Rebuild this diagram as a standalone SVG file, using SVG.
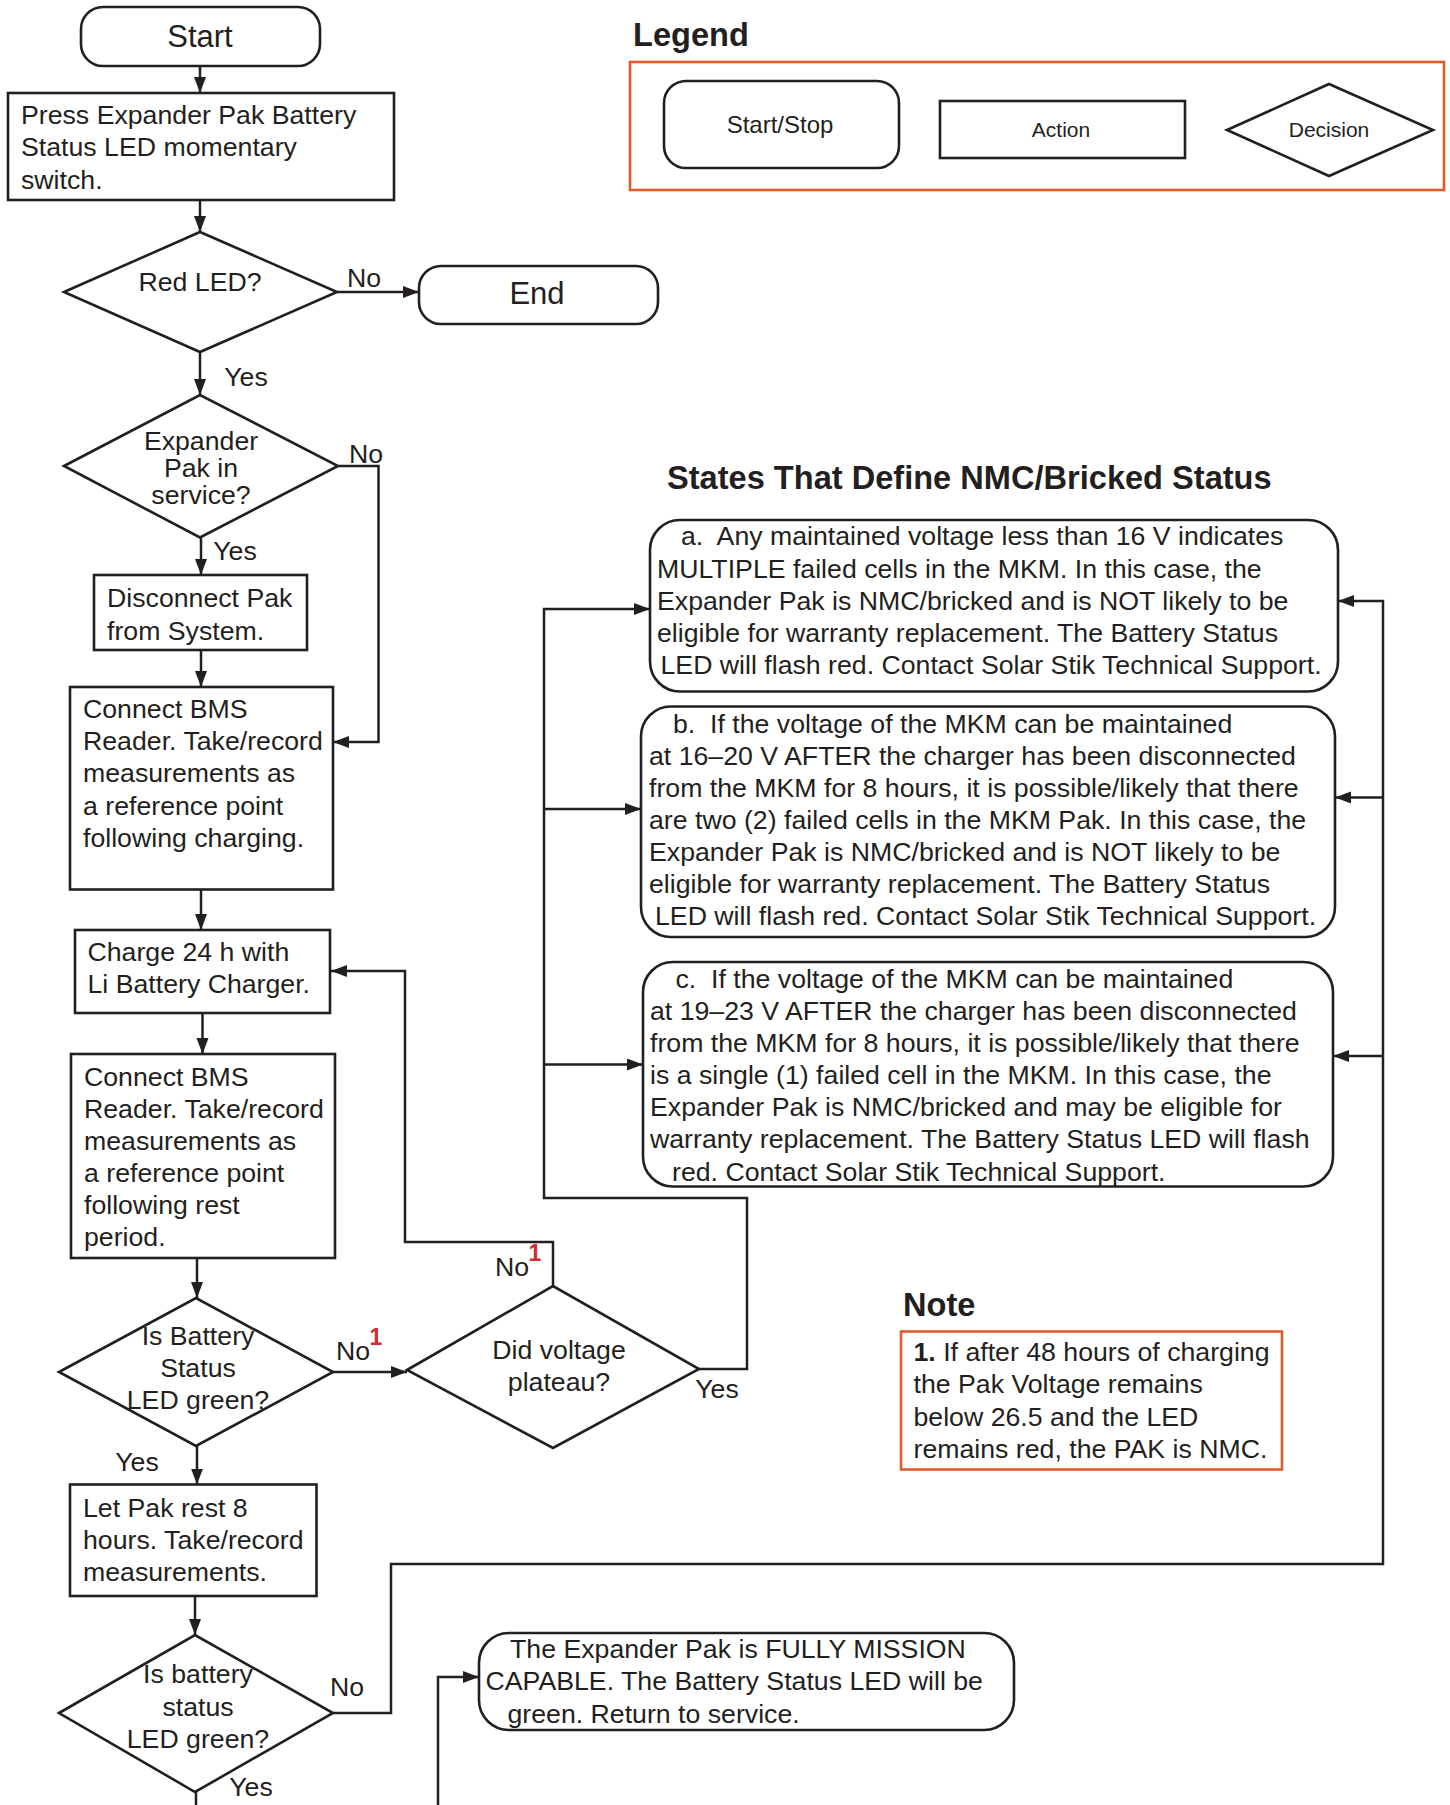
<svg xmlns="http://www.w3.org/2000/svg" width="1450" height="1805" viewBox="0 0 1450 1805">
<defs>
<marker id="ah" markerUnits="userSpaceOnUse" markerWidth="17" markerHeight="13" refX="16" refY="6" orient="auto">
<path d="M0,0 L16,6 L0,12 Z" fill="#231f20"/>
</marker>
<style>
text{font-family:"Liberation Sans",Arial,Helvetica,sans-serif;fill:#231f20;font-size:26.7px}
.c{text-anchor:middle}
.h{font-weight:bold;font-size:32.6px}
.sh{fill:#fff;stroke:#231f20;stroke-width:2.6}
.or{fill:none;stroke:#e2592a;stroke-width:2.6}
.cn{fill:none;stroke:#231f20;stroke-width:2.5}
.ar{marker-end:url(#ah)}
.sup{fill:#d52b32;font-weight:bold;font-size:23px}
.lg{font-size:21px}
</style>
</defs>
<rect width="1450" height="1805" fill="#fff"/>

<g id="legend">
<text x="633" y="46" class="h">Legend</text>
<rect x="630" y="62" width="814" height="128" class="or"/>
<rect x="664" y="81" width="235" height="87" rx="22" class="sh"/>
<text x="780" y="133" class="c" style="font-size:24px">Start/Stop</text>
<rect x="940" y="101" width="245" height="57" class="sh"/>
<text x="1061" y="137" class="c lg">Action</text>
<polygon points="1227,130 1329,84 1433,130 1329,176" class="sh"/>
<text x="1329" y="137" class="c lg">Decision</text>
</g>

<g id="connectors">
<path d="M200,66 V93" class="cn ar"/>
<path d="M200,200 V232" class="cn ar"/>
<path d="M337,292 H419" class="cn ar"/>
<path d="M200,352 V395" class="cn ar"/>
<path d="M338,466 H378.5 V742 H333" class="cn ar"/>
<path d="M201,537.5 V575" class="cn ar"/>
<path d="M201,650 V687" class="cn ar"/>
<path d="M201,889.5 V930" class="cn ar"/>
<path d="M202.5,1013 V1054" class="cn ar"/>
<path d="M197,1258 V1298" class="cn ar"/>
<path d="M333,1372 H407" class="cn ar"/>
<path d="M553,1286 V1242 H405 V971 H331" class="cn ar"/>
<path d="M699,1369 H747 V1198 H544 V609 H650" class="cn ar"/>
<path d="M544,809 H641" class="cn ar"/>
<path d="M544,1064.5 H643" class="cn ar"/>
<path d="M197,1446 V1484.5" class="cn ar"/>
<path d="M195,1596 V1635" class="cn ar"/>
<path d="M333,1713 H391 V1564 H1383 V601 H1338" class="cn ar"/>
<path d="M1383,797.5 H1335" class="cn ar"/>
<path d="M1383,1056 H1333" class="cn ar"/>
<path d="M196,1792 V1805" class="cn"/>
<path d="M438,1805 V1677 H479" class="cn ar"/>
</g>

<g id="labels">
<text x="364" y="287" class="c">No</text>
<text x="246" y="386" class="c">Yes</text>
<text x="366" y="463" class="c">No</text>
<text x="235" y="560" class="c">Yes</text>
<text x="353" y="1360" class="c">No</text>
<text x="376" y="1345" class="c sup">1</text>
<text x="512" y="1276" class="c">No</text>
<text x="535" y="1261" class="c sup">1</text>
<text x="717" y="1398" class="c">Yes</text>
<text x="137" y="1471" class="c">Yes</text>
<text x="347" y="1696" class="c">No</text>
<text x="251" y="1796" class="c">Yes</text>
</g>

<g id="start">
<rect x="81" y="7" width="239" height="59" rx="22" class="sh"/>
<text x="200" y="47" class="c" style="font-size:31px">Start</text>
</g>

<g id="press">
<rect x="8" y="93" width="386" height="107" class="sh"/>
<text x="21" y="124">Press Expander Pak Battery</text>
<text x="21" y="156">Status LED momentary</text>
<text x="21" y="188.5">switch.</text>
</g>

<g id="redled">
<polygon points="64,292 200,232 337,292 200,352" class="sh"/>
<text x="200" y="291" class="c">Red LED?</text>
</g>

<g id="end">
<rect x="419" y="266" width="239" height="58" rx="22" class="sh"/>
<text x="537" y="304" class="c" style="font-size:31px">End</text>
</g>

<g id="inservice">
<polygon points="64,466 200,395 338,466 200,537.5" class="sh"/>
<text x="201" y="450" class="c">Expander</text>
<text x="201" y="477" class="c">Pak in</text>
<text x="201" y="504" class="c">service?</text>
</g>

<g id="disconnect">
<rect x="94" y="575" width="213" height="75" class="sh"/>
<text x="107" y="607">Disconnect Pak</text>
<text x="107" y="640">from System.</text>
</g>

<g id="connect1">
<rect x="70" y="687" width="263" height="202.5" class="sh"/>
<text x="83" y="718">Connect BMS</text>
<text x="83" y="750">Reader. Take/record</text>
<text x="83" y="782">measurements as</text>
<text x="83" y="814.5">a reference point</text>
<text x="83" y="847">following charging.</text>
</g>

<g id="charge">
<rect x="75" y="930" width="255" height="83" class="sh"/>
<text x="87.5" y="961">Charge 24 h with</text>
<text x="87.5" y="993">Li Battery Charger.</text>
</g>

<g id="connect2">
<rect x="71" y="1054" width="264" height="204" class="sh"/>
<text x="84" y="1086">Connect BMS</text>
<text x="84" y="1118">Reader. Take/record</text>
<text x="84" y="1150">measurements as</text>
<text x="84" y="1182">a reference point</text>
<text x="84" y="1214">following rest</text>
<text x="84" y="1246">period.</text>
</g>

<g id="ledgreen1">
<polygon points="59,1372 196,1298 333,1372 196,1446" class="sh"/>
<text x="198" y="1345" class="c">Is Battery</text>
<text x="198" y="1377" class="c">Status</text>
<text x="198" y="1409" class="c">LED green?</text>
</g>

<g id="plateau">
<polygon points="407,1370 553,1286 699,1369 553,1448" class="sh"/>
<text x="559" y="1359" class="c">Did voltage</text>
<text x="559" y="1391" class="c">plateau?</text>
</g>

<g id="title">
<text x="667" y="489" class="h">States That Define NMC/Bricked Status</text>
</g>

<g id="state-a">
<rect x="650" y="520" width="688" height="171.5" rx="30" class="sh"/>
<text x="681" y="545">a.&#160; Any maintained voltage less than 16 V indicates</text>
<text x="657" y="577.5">MULTIPLE failed cells in the MKM. In this case, the</text>
<text x="657" y="609.5">Expander Pak is NMC/bricked and is NOT likely to be</text>
<text x="657" y="642">eligible for warranty replacement. The Battery Status</text>
<text x="660.5" y="674">LED will flash red. Contact Solar Stik Technical Support.</text>
</g>

<g id="state-b">
<rect x="641" y="706.5" width="694" height="230.5" rx="30" class="sh"/>
<text x="673" y="733">b.&#160; If the voltage of the MKM can be maintained</text>
<text x="649" y="765">at 16–20 V AFTER the charger has been disconnected</text>
<text x="649" y="797">from the MKM for 8 hours, it is possible/likely that there</text>
<text x="649" y="828.5">are two (2) failed cells in the MKM Pak. In this case, the</text>
<text x="649" y="860.5">Expander Pak is NMC/bricked and is NOT likely to be</text>
<text x="649" y="893">eligible for warranty replacement. The Battery Status</text>
<text x="655" y="925">LED will flash red. Contact Solar Stik Technical Support.</text>
</g>

<g id="state-c">
<rect x="643" y="962" width="690" height="224.5" rx="30" class="sh"/>
<text x="675.5" y="988">c.&#160; If the voltage of the MKM can be maintained</text>
<text x="650" y="1019.5">at 19–23 V AFTER the charger has been disconnected</text>
<text x="650" y="1051.5">from the MKM for 8 hours, it is possible/likely that there</text>
<text x="650" y="1084">is a single (1) failed cell in the MKM. In this case, the</text>
<text x="650" y="1116">Expander Pak is NMC/bricked and may be eligible for</text>
<text x="650" y="1148">warranty replacement. The Battery Status LED will flash</text>
<text x="672" y="1180.5">red. Contact Solar Stik Technical Support.</text>
</g>

<g id="note">
<text x="903" y="1316" class="h">Note</text>
<rect x="901" y="1331.5" width="381" height="138" class="or"/>
<text x="913.5" y="1361"><tspan font-weight="bold">1.</tspan> If after 48 hours of charging</text>
<text x="913.5" y="1393">the Pak Voltage remains</text>
<text x="913.5" y="1425.5">below 26.5 and the LED</text>
<text x="913.5" y="1458">remains red, the PAK is NMC.</text>
</g>

<g id="rest">
<rect x="70" y="1484.5" width="246.5" height="111.5" class="sh"/>
<text x="83" y="1516.5">Let Pak rest 8</text>
<text x="83" y="1549">hours. Take/record</text>
<text x="83" y="1581">measurements.</text>
</g>

<g id="ledgreen2">
<polygon points="59,1713 195,1635 333,1713 195,1792" class="sh"/>
<text x="198" y="1683" class="c">Is battery</text>
<text x="198" y="1715.5" class="c">status</text>
<text x="198" y="1748" class="c">LED green?</text>
</g>

<g id="fmc">
<rect x="479" y="1633" width="535" height="97" rx="30" class="sh"/>
<text x="510" y="1658">The Expander Pak is FULLY MISSION</text>
<text x="485.5" y="1690">CAPABLE. The Battery Status LED will be</text>
<text x="507.5" y="1722.5">green. Return to service.</text>
</g>
</svg>
